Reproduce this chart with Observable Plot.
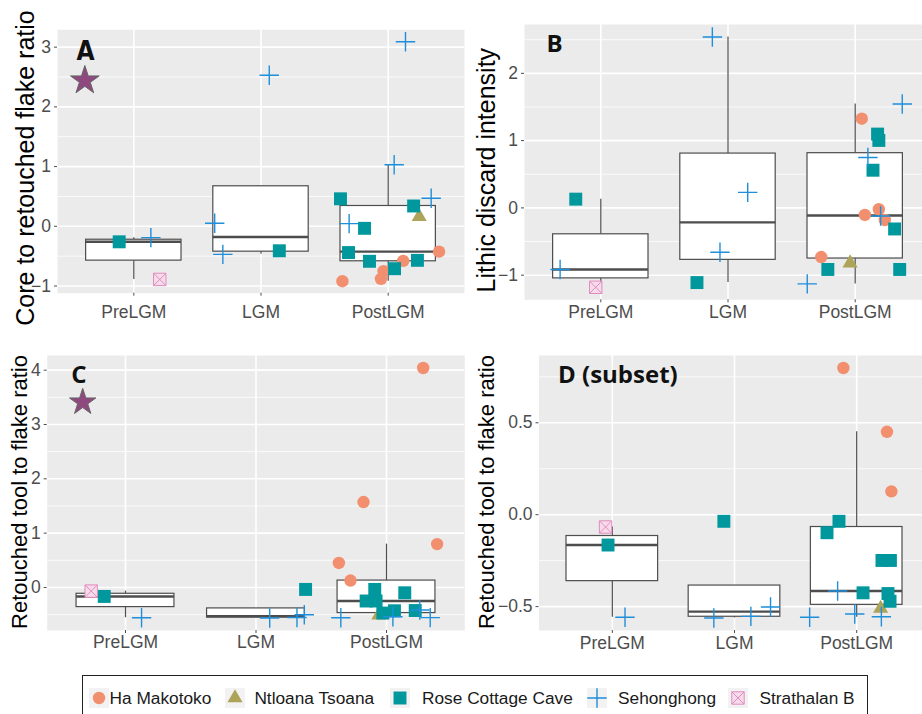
<!DOCTYPE html>
<html><head><meta charset="utf-8">
<script src="https://cdn.jsdelivr.net/npm/d3@7"></script>
<script src="https://cdn.jsdelivr.net/npm/@observablehq/plot@0.6"></script>
<style>
html,body{margin:0;padding:0;background:#fff;overflow:hidden;width:922px;height:714px;}
#wrap{position:relative;width:922px;height:714px;overflow:hidden;font-family:"Liberation Sans",Arial,sans-serif;}
.panel{position:absolute;}
#legendBox{position:absolute;left:82px;top:675px;width:786px;height:50px;border:1.5px solid #222;box-sizing:border-box;background:#fff;}
.lgsym{position:absolute;width:22px;height:22px;}
.lgtxt{position:absolute;font-size:17.3px;line-height:20px;color:#1a1a1a;white-space:nowrap;}
</style>
</head><body><div id="wrap"></div>
<script>
// ---------- data ----------
const periods = ["PreLGM", "LGM", "PostLGM"];
const sites = ["Ha Makotoko", "Ntloana Tsoana", "Rose Cottage Cave", "Sehonghong", "Strathalan B"];

// [site, period, value, horizontal jitter (category units)]
const coreRetouched = [
  ["Rose Cottage Cave", "PreLGM", -0.26, -0.115],
  ["Sehonghong", "PreLGM", -0.19, 0.134],
  ["Strathalan B", "PreLGM", -0.89, 0.204],
  ["Sehonghong", "LGM", 0.05, -0.364],
  ["Sehonghong", "LGM", -0.47, -0.30],
  ["Rose Cottage Cave", "LGM", -0.41, 0.144],
  ["Sehonghong", "LGM", 2.53, 0.065],
  ["Ha Makotoko", "PostLGM", -0.425, 0.40],
  ["Ha Makotoko", "PostLGM", -0.58, 0.118],
  ["Ha Makotoko", "PostLGM", -0.75, -0.037],
  ["Ha Makotoko", "PostLGM", -0.88, -0.057],
  ["Ha Makotoko", "PostLGM", -0.92, -0.36],
  ["Ntloana Tsoana", "PostLGM", 0.16, 0.244],
  ["Rose Cottage Cave", "PostLGM", 0.46, -0.375],
  ["Rose Cottage Cave", "PostLGM", 0.34, 0.20],
  ["Rose Cottage Cave", "PostLGM", -0.034, -0.186],
  ["Rose Cottage Cave", "PostLGM", -0.44, -0.312],
  ["Rose Cottage Cave", "PostLGM", -0.586, -0.147],
  ["Rose Cottage Cave", "PostLGM", -0.71, 0.05],
  ["Rose Cottage Cave", "PostLGM", -0.57, 0.23],
  ["Sehonghong", "PostLGM", 1.03, 0.047],
  ["Sehonghong", "PostLGM", 3.09, 0.136],
  ["Sehonghong", "PostLGM", 0.47, 0.338],
  ["Sehonghong", "PostLGM", 0.045, -0.307]
];

const lithicDiscard = [
  ["Rose Cottage Cave", "PreLGM", 0.13, -0.197],
  ["Sehonghong", "PreLGM", -0.915, -0.32],
  ["Strathalan B", "PreLGM", -1.18, -0.04],
  ["Sehonghong", "LGM", 2.54, -0.123],
  ["Sehonghong", "LGM", 0.23, 0.155],
  ["Sehonghong", "LGM", -0.66, -0.063],
  ["Rose Cottage Cave", "LGM", -1.11, -0.244],
  ["Ha Makotoko", "PostLGM", 1.326, 0.052],
  ["Ha Makotoko", "PostLGM", -0.02, 0.186],
  ["Ha Makotoko", "PostLGM", -0.105, 0.076],
  ["Ha Makotoko", "PostLGM", -0.18, 0.233],
  ["Ha Makotoko", "PostLGM", -0.73, -0.267],
  ["Ntloana Tsoana", "PostLGM", -0.82, -0.04],
  ["Rose Cottage Cave", "PostLGM", 1.097, 0.176],
  ["Rose Cottage Cave", "PostLGM", 1.003, 0.186],
  ["Rose Cottage Cave", "PostLGM", 0.56, 0.14],
  ["Rose Cottage Cave", "PostLGM", -0.313, 0.31],
  ["Rose Cottage Cave", "PostLGM", -0.915, -0.215],
  ["Rose Cottage Cave", "PostLGM", -0.915, 0.35],
  ["Sehonghong", "PostLGM", 1.545, 0.37],
  ["Sehonghong", "PostLGM", 0.75, 0.10],
  ["Sehonghong", "PostLGM", -0.12, 0.20],
  ["Sehonghong", "PostLGM", -1.13, -0.377]
];

const retouchedToolAll = [
  ["Strathalan B", "PreLGM", -0.067, -0.263],
  ["Rose Cottage Cave", "PreLGM", -0.165, -0.163],
  ["Sehonghong", "PreLGM", -0.558, 0.123],
  ["Rose Cottage Cave", "LGM", -0.036, 0.38],
  ["Sehonghong", "LGM", -0.562, 0.105],
  ["Sehonghong", "LGM", -0.553, 0.314],
  ["Sehonghong", "LGM", -0.502, 0.37],
  ["Ha Makotoko", "PostLGM", 4.04, 0.281],
  ["Ha Makotoko", "PostLGM", 1.573, -0.176],
  ["Ha Makotoko", "PostLGM", 0.798, 0.388],
  ["Ha Makotoko", "PostLGM", 0.451, -0.365],
  ["Ha Makotoko", "PostLGM", 0.127, -0.276],
  ["Ntloana Tsoana", "PostLGM", -0.51, -0.059],
  ["Rose Cottage Cave", "PostLGM", -0.036, -0.09],
  ["Rose Cottage Cave", "PostLGM", -0.098, 0.14],
  ["Rose Cottage Cave", "PostLGM", -0.249, -0.156],
  ["Rose Cottage Cave", "PostLGM", -0.249, -0.08],
  ["Rose Cottage Cave", "PostLGM", -0.471, -0.028],
  ["Rose Cottage Cave", "PostLGM", -0.429, 0.061],
  ["Rose Cottage Cave", "PostLGM", -0.425, 0.22],
  ["Sehonghong", "PostLGM", -0.558, -0.35],
  ["Sehonghong", "PostLGM", -0.54, 0.049],
  ["Sehonghong", "PostLGM", -0.415, 0.255],
  ["Sehonghong", "PostLGM", -0.555, 0.335]
];

const retouchedToolSubset = [
  ["Strathalan B", "PreLGM", -0.067, -0.055],
  ["Rose Cottage Cave", "PreLGM", -0.165, -0.035],
  ["Sehonghong", "PreLGM", -0.558, 0.104],
  ["Rose Cottage Cave", "LGM", -0.036, -0.087],
  ["Sehonghong", "LGM", -0.562, -0.169],
  ["Sehonghong", "LGM", -0.553, 0.134],
  ["Sehonghong", "LGM", -0.502, 0.295],
  ["Ha Makotoko", "PostLGM", 0.798, -0.109],
  ["Ha Makotoko", "PostLGM", 0.451, 0.248],
  ["Ha Makotoko", "PostLGM", 0.127, 0.284],
  ["Ntloana Tsoana", "PostLGM", -0.51, 0.196],
  ["Rose Cottage Cave", "PostLGM", -0.036, -0.145],
  ["Rose Cottage Cave", "PostLGM", -0.098, -0.243],
  ["Rose Cottage Cave", "PostLGM", -0.249, 0.207],
  ["Rose Cottage Cave", "PostLGM", -0.249, 0.276],
  ["Rose Cottage Cave", "PostLGM", -0.471, 0.273],
  ["Rose Cottage Cave", "PostLGM", -0.429, 0.256],
  ["Rose Cottage Cave", "PostLGM", -0.425, 0.052],
  ["Sehonghong", "PostLGM", -0.558, -0.385],
  ["Sehonghong", "PostLGM", -0.54, -0.016],
  ["Sehonghong", "PostLGM", -0.415, -0.156],
  ["Sehonghong", "PostLGM", -0.555, 0.202]
];

// reference star values [period, value, jitter]
const starCore = [["PreLGM", 2.44, -0.385]];
const starRetouched = [["PreLGM", 3.41, -0.328]];

const yTicksA = [-1, 0, 1, 2, 3];
const yTicksB = [-1, 0, 1, 2];
const yTicksC = [0, 1, 2, 3, 4];
const yTicksD = [-0.5, 0, 0.5];

const titles = ["Core to retouched flake ratio", "Lithic discard intensity",
  "Retouched tool to flake ratio", "Retouched tool to flake ratio"];
const panelLabels = ["A", "B", "C", "D (subset)"];

// ---------- styles ----------
const siteStyle = {
  "Ha Makotoko": [{symbol: "circle", r: 6.2, fill: "#F28F6F", stroke: "none"}],
  "Ntloana Tsoana": [{symbol: "triangle", r: 5.6, fill: "#ADA45A", stroke: "none"}],
  "Rose Cottage Cave": [{symbol: "square", r: 7.3, fill: "#00979D", stroke: "none"}],
  "Sehonghong": [{symbol: "plus", r: 6.3, fill: "none", stroke: "#1F8FDB", strokeWidth: 1.4}],
  "Strathalan B": [
    {symbol: "square", r: 7.0, fill: "#F6DCEA", stroke: "#E28BBF", strokeWidth: 1},
    {symbol: "times", r: 5.6, fill: "none", stroke: "#E28BBF", strokeWidth: 1}
  ]
};
const boxStroke = "#4d4d4d";

function boxStats(vals) {
  const s = vals.slice().sort(d3.ascending);
  const q1 = d3.quantile(s, 0.25), med = d3.quantile(s, 0.5), q3 = d3.quantile(s, 0.75);
  const iqr = q3 - q1;
  const lo = d3.min(s.filter(v => v >= q1 - 1.5 * iqr));
  const hi = d3.max(s.filter(v => v <= q3 + 1.5 * iqr));
  return {q1, med, q3, lo, hi};
}
function minors(t, dom) {
  const step = t[1] - t[0];
  const ext = [t[0] - step, ...t, t[t.length - 1] + step];
  const m = [];
  for (let i = 0; i < ext.length - 1; i++) m.push((ext[i] + ext[i + 1]) / 2);
  return m.filter(v => v >= dom[0] && v <= dom[1]);
}

const layouts = [
  {data: coreRetouched, star: starCore, ticks: yTicksA, fmt: d3.format("d"),
   left: 0, top: 0, width: 466, height: 336, mt: 29.3, mr: 2, mb: 43.3, ml: 57,
   xPad: 9, titleSize: 25, tdx: -23.7, tdy: 6.5,
   labelFont: "'DejaVu Sans Condensed', 'Liberation Sans Narrow', sans-serif", labelSize: 26, ldx: 19, ldy: 29.7, starR: 9},
  {data: lithicDiscard, star: [], ticks: yTicksB, fmt: d3.format("d"),
   left: 466, top: 0, width: 470, height: 336, mt: 24, mr: 5, mb: 36.7, ml: 58,
   xPad: 3, titleSize: 25, tdx: -29.5, tdy: 8,
   labelFont: "'Open Sans', sans-serif", labelSize: 24, ldx: 22, ldy: 27},
  {data: retouchedToolAll, star: starRetouched, ticks: yTicksC, fmt: d3.format("d"),
   left: 0, top: 336, width: 466, height: 340, mt: 19, mr: 1.7, mb: 46, ml: 46.7,
   xPad: 2.5, titleSize: 22, tdx: -20.7, tdy: -1,
   labelFont: "'Open Sans', sans-serif", labelSize: 24, ldx: 24, ldy: 27, starR: 8.3},
  {data: retouchedToolSubset, star: [], ticks: yTicksD, fmt: d3.format(".1f"),
   left: 466, top: 336, width: 470, height: 340, mt: 19, mr: 6.5, mb: 46, ml: 72.5,
   xPad: 3, titleSize: 22, tdx: -45.2, tdy: -1,
   labelFont: "'Open Sans', sans-serif", labelSize: 24, ldx: 19, ldy: 27}
];

const wrap = document.getElementById("wrap");

layouts.forEach((L, k) => {
  const rows = L.data.map(([site, period, value, jitter]) => ({site, period, value, x: periods.indexOf(period) + 1 + jitter}));
  const stars = L.star.map(([period, value, jitter]) => ({value, x: periods.indexOf(period) + 1 + jitter}));
  const allVals = rows.map(d => d.value).concat(stars.map(d => d.value));
  const [mn, mx] = d3.extent(allVals);
  const dom = [mn - 0.05 * (mx - mn), mx + 0.05 * (mx - mn)];
  const boxes = periods.map((p, i) => ({pos: i + 1, ...boxStats(rows.filter(d => d.period === p).map(d => d.value))}));

  const pointMarks = [];
  for (const site of sites) {
    const sub = rows.filter(d => d.site === site);
    for (const st of siteStyle[site]) {
      pointMarks.push(Plot.dot(sub, {x: "x", y: "value", ...st}));
    }
  }

  const chart = Plot.plot({
    width: L.width, height: L.height,
    marginTop: L.mt, marginRight: L.mr, marginBottom: L.mb, marginLeft: L.ml,
    style: {background: "transparent", color: "#4d4d4d", fontFamily: "'Liberation Sans', Arial, sans-serif", fontSize: "17.5px", overflow: "visible"},
    x: {domain: [0.4, 3.6]},
    y: {domain: dom},
    marks: [
      Plot.frame({fill: "#EBEBEB", stroke: "none"}),
      Plot.ruleY(minors(L.ticks, dom), {stroke: "white", strokeWidth: 0.8}),
      Plot.ruleY(L.ticks, {stroke: "white", strokeWidth: 1.6}),
      Plot.ruleX([1, 2, 3], {stroke: "white", strokeWidth: 1.6}),
      Plot.axisY({ticks: L.ticks, tickFormat: L.fmt, tickSize: 3, tickPadding: 3.5, label: null, fontSize: 17.5}),
      Plot.axisX({ticks: [1, 2, 3], tickFormat: i => periods[i - 1], tickSize: 3, tickPadding: L.xPad, label: null, fontSize: 17.5}),
      Plot.ruleX(boxes, {x: "pos", y1: "q3", y2: "hi", stroke: boxStroke, strokeWidth: 1.2}),
      Plot.ruleX(boxes, {x: "pos", y1: "lo", y2: "q1", stroke: boxStroke, strokeWidth: 1.2}),
      Plot.rect(boxes, {x1: d => d.pos - 0.375, x2: d => d.pos + 0.375, y1: "q1", y2: "q3", fill: "white", stroke: boxStroke, strokeWidth: 1.2}),
      Plot.ruleY(boxes, {y: "med", x1: d => d.pos - 0.375, x2: d => d.pos + 0.375, stroke: boxStroke, strokeWidth: 2.4}),
      ...pointMarks,
      Plot.dot(stars, {x: "x", y: "value", symbol: "star", r: L.starR || 9, fill: "#8E4A7E", stroke: "#666", strokeWidth: 1}),
      Plot.text([titles[k]], {text: d => d, frameAnchor: "left", rotate: -90, textAnchor: "middle", lineAnchor: "bottom",
        dx: L.tdx, dy: L.tdy, fontSize: L.titleSize, fill: "#000"}),
      Plot.text([panelLabels[k]], {text: d => d, frameAnchor: "top-left", textAnchor: "start", lineAnchor: "bottom",
        dx: L.ldx, dy: L.ldy, fontSize: L.labelSize, fontWeight: "bold", fontFamily: L.labelFont, fill: "#111"})
    ]
  });
  const div = document.createElement("div");
  div.className = "panel";
  div.style.left = L.left + "px";
  div.style.top = L.top + "px";
  div.style.width = L.width + "px";
  div.style.height = L.height + "px";
  div.appendChild(chart);
  wrap.appendChild(div);
});

// ---------- legend ----------
const legendBox = document.createElement("div");
legendBox.id = "legendBox";
wrap.appendChild(legendBox);
const legendSymX = [98.8, 234.6, 400.4, 596.5, 738.2];
const legendTxtX = [109.5, 254.4, 422, 618, 759.5];
const legendCY = 698;
sites.forEach((site, i) => {
  const svg = d3.create("svg").attr("class", "lgsym").attr("width", 22).attr("height", 22)
    .style("left", (legendSymX[i] - 11) + "px").style("top", (legendCY - 11) + "px");
  svg.append("rect").attr("x", 1).attr("y", 1).attr("width", 20).attr("height", 20).attr("fill", "#F2F2F2");
  const symMap = {circle: d3.symbolCircle, triangle: d3.symbolTriangle, square: d3.symbolSquare, plus: d3.symbolPlus, times: d3.symbolTimes};
  for (const st of siteStyle[site]) {
    svg.append("path").attr("transform", "translate(11,11)")
      .attr("d", d3.symbol(symMap[st.symbol], Math.PI * st.r * st.r)())
      .attr("fill", st.fill).attr("stroke", st.stroke === "none" ? null : st.stroke)
      .attr("stroke-width", st.strokeWidth || null);
  }
  wrap.appendChild(svg.node());
  const t = document.createElement("div");
  t.className = "lgtxt";
  t.textContent = site;
  t.style.left = legendTxtX[i] + "px";
  t.style.top = (legendCY - 9.8) + "px";
  wrap.appendChild(t);
});
</script>
</body></html>
